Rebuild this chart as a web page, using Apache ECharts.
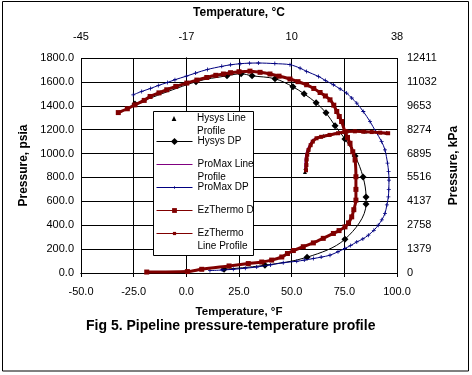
<!DOCTYPE html>
<html><head><meta charset="utf-8">
<script src="https://cdn.jsdelivr.net/npm/echarts@6/dist/echarts.min.js"></script>
<style>html,body{margin:0;padding:0;background:#fff}#c{width:472px;height:375px}</style>
</head><body><div id="c"></div>
<script>
// ---- data (temperature °F, pressure psia) ----
const hysysLineProfile = [[95,1175],[85,1185],[75,1185],[65,1150],[60,1110],[58,1040],[57,960],[56.5,880],[56.3,845]];
const hysysDP = [[-24.4,1414],[4.6,1601],[19.3,1651],[26.0,1668],[31.2,1651],[42.1,1626],[50.6,1559],[55.9,1500],[61.6,1425],[66.3,1341],[70.6,1232],[75.3,1122],[80.1,980],[83.9,803],[85.3,636],[85.3,577],[75.3,283],[57.3,132],[37.3,65],[17.9,31]];
const promaxLineProfile = [[96,1172],[90,1180],[84,1184],[80,1188],[76,1188],[72,1175],[68,1160],[64,1143],[61.5,1130],[59.5,1100],[58.3,1065],[57.3,1025],[56.7,980],[56.4,930],[56.3,880],[56.2,850]];
const promaxDP = [[-25.2,1492],[-21.2,1520],[-17,1545],[-13.3,1570],[-9,1595],[-5.4,1618],[0,1648],[4.4,1674],[10,1704],[16.8,1730],[21,1743],[25.5,1752],[30,1757],[34.2,1758],[42,1753],[49.2,1744],[54,1715],[57.1,1688],[62.7,1646],[66,1612],[69.8,1576],[73,1541],[76.1,1506],[78.5,1465],[80.9,1422],[84.0,1352],[87.2,1268],[89.9,1184],[92.7,1100],[94.3,1030],[95.5,920],[96.0,850],[96.2,778],[96.1,700],[95.9,638],[95.2,570],[94.3,499],[92.8,445],[91.1,400],[89,357],[86.4,317],[83.8,285],[80.9,260],[78,230],[75.3,205],[72,178],[68.2,149],[64,133],[60.3,121],[56,108],[52.4,98],[46.0,86],[40,68],[33.4,50],[28,40],[22.3,31],[17,25],[11.2,20]];
const ezthermoDP = [[-32.3,1343],[-28,1375],[-24.4,1408],[-20,1445],[-17.2,1478],[-13,1508],[-9.3,1534],[-5,1562],[0.2,1590],[5,1615],[9.7,1637],[14,1655],[17.6,1666],[21,1677],[25,1685],[30.2,1690],[35,1680],[39.7,1666],[44,1648],[49.2,1624],[53,1602],[57.1,1576],[60.5,1545],[63.5,1511],[66,1482],[68.2,1450],[70,1405],[71.4,1352],[72.6,1310],[73.7,1268],[75.3,1184],[76.5,1135],[77.7,1086],[79,1015],[80.1,946],[80.5,806],[80.5,700],[80.5,610],[79.5,530],[78.5,470],[77,420],[75.3,386],[72.5,355],[69.8,331],[65,290],[60.3,252],[55.5,220],[50.8,188],[48,163],[45.3,134],[40.5,108],[35.8,92],[29.4,79],[20.3,59],[7.3,31],[0.5,12],[-18.8,8]];
const ezthermoLineProfile = [[95.8,1170],[92,1175],[88,1180],[84,1183],[80,1186],[76,1184],[72,1170],[68,1156],[64,1140],[61.8,1128],[60,1100],[59,1070],[58,1030],[57.4,990],[57.1,950],[57,904],[56.8,860]];

const seriesNames = ['Hysys Line Profile','Hysys DP','ProMax Line Profile','ProMax DP','EzThermo DP','EzThermo Line Profile'];
const legendLabels = ['Hysys Line\nProfile','Hysys DP','ProMax Line\nProfile','ProMax DP','EzThermo DP','EzThermo\nLine Profile'];
const celsiusLabels = ['-45','','-17','','10','','38'];          // at -50,-25,0,25,50,75,100 °F
const kpaLabels = ['0','1379','2758','4137','5516','6895','8274','9653','11032','12411'];

const FONT = 'Arial, "Liberation Sans", sans-serif';
const plusSym = 'path://M2,0L3,0L3,2L5,2L5,3L3,3L3,5L2,5L2,3L0,3L0,2L2,2Z';

const chart = echarts.init(document.getElementById('c'), null, {renderer:'canvas'});

const legendCenters = [118.5, 141.5, 164.5, 187.5, 210.5, 233.5];
const legendIconH = [6, 9, 8, 4, 6, 4];
const legends = seriesNames.map((n, i) => {
  const two = legendLabels[i].indexOf('\n') >= 0;
  const txt = two ? '\u00a0\n' + legendLabels[i] : legendLabels[i];
  const ts = {fontSize: 10, fontFamily: FONT, color: '#000', lineHeight: 13};
  if (i === 4) { ts.width = 60; ts.overflow = 'truncate'; ts.ellipsis = ''; }
  const lg = {
    show: true, orient: 'vertical', left: 156,
    top: legendCenters[i] - (two ? 19.5 : 6.5),
    padding: 0, itemGap: 0, itemWidth: 36, itemHeight: legendIconH[i],
    selectedMode: false, z: 100,
    data: [n],
    formatter: () => txt,
    lineStyle: {width: 1},
    textStyle: ts
  };
  if (i === 2) lg.itemStyle = {opacity: 0};
  if (i === 0) lg.lineStyle = {opacity: 0, width: 0};
  return lg;
});

const axisLbl = {fontSize: 11, fontFamily: FONT, color: '#000'};
const nameStyle = {fontSize: 12, fontWeight: 'bold', fontFamily: FONT, color: '#000'};

chart.setOption({
  animation: false,
  backgroundColor: '#fff',
  title: {text: 'Fig 5. Pipeline pressure-temperature profile', left: 86, top: 319, padding: 0,
          textStyle: {fontSize: 14, fontWeight: 'bold', fontFamily: FONT, color: '#000'}},
  grid: {left: 81, right: 75, top: 58, bottom: 102, outerBoundsMode: 'none', containLabel: false},
  legend: legends,
  xAxis: [
    {type: 'value', position: 'bottom', min: -50, max: 100, interval: 25,
     name: 'Temperature, °F', nameLocation: 'middle', nameGap: 33,
     nameTextStyle: Object.assign({}, nameStyle, {fontSize: 11.5}),
     axisLine: {show: true, lineStyle: {color: '#000', width: 1}},
     axisTick: {show: true, length: 4, lineStyle: {color: '#000'}},
     axisLabel: Object.assign({margin: 13, formatter: v => v.toFixed(1)}, axisLbl),
     splitLine: {show: true, lineStyle: {color: '#000', width: 1}}},
    {type: 'value', position: 'top', min: -50, max: 100, interval: 25,
     name: 'Temperature, °C', nameLocation: 'middle', nameGap: 39, nameTextStyle: nameStyle,
     axisLine: {show: true, lineStyle: {color: '#000', width: 1}},
     axisTick: {show: true, length: 4, lineStyle: {color: '#000'}},
     axisLabel: Object.assign({margin: 16, formatter: v => celsiusLabels[Math.round((v + 50) / 25)]}, axisLbl),
     splitLine: {show: false}}
  ],
  yAxis: [
    {type: 'value', position: 'left', min: 0, max: 1800, interval: 200,
     name: 'Pressure, psia', nameLocation: 'middle', nameGap: 46, nameTextStyle: nameStyle,
     axisLine: {show: true, lineStyle: {color: '#000', width: 1}},
     axisTick: {show: true, length: 4, lineStyle: {color: '#000'}},
     axisLabel: Object.assign({margin: 7, formatter: v => v.toFixed(1)}, axisLbl),
     splitLine: {show: true, lineStyle: {color: '#000', width: 1}}},
    {type: 'value', position: 'right', min: 0, max: 1800, interval: 200,
     name: 'Pressure, kPa', nameLocation: 'middle', nameGap: 46, nameTextStyle: nameStyle,
     axisLine: {show: true, lineStyle: {color: '#000', width: 1}},
     axisTick: {show: true, length: 4, lineStyle: {color: '#000'}},
     axisLabel: Object.assign({margin: 10, formatter: v => kpaLabels[Math.round(v / 200)]}, axisLbl),
     splitLine: {show: false}}
  ],
  graphic: {elements: [
    {type: 'rect', z: 90, shape: {x: 153.5, y: 111.5, width: 100, height: 144}, style: {fill: '#fff', stroke: '#000', lineWidth: 1}},
    {type: 'rect', z: 0, silent: true, shape: {x: 2.5, y: 1.5, width: 466, height: 369.5}, style: {fill: 'none', stroke: '#000', lineWidth: 1}}
  ]},
  series: [
    {name: seriesNames[0], type: 'line', data: hysysLineProfile, symbol: 'triangle', symbolSize: 4, showSymbol: true,
     lineStyle: {width: 0, opacity: 0}, itemStyle: {color: '#000'}, z: 2},
    {name: seriesNames[1], type: 'line', data: hysysDP, smooth: 0.35, symbol: 'diamond', symbolSize: 7, showSymbol: true,
     lineStyle: {color: '#000', width: 1}, itemStyle: {color: '#000'}, z: 3},
    {name: seriesNames[2], type: 'line', data: promaxLineProfile, smooth: 0.3, symbol: 'none', showSymbol: false,
     lineStyle: {color: '#800080', width: 1.5}, itemStyle: {color: '#800080'}, z: 4},
    {name: seriesNames[3], type: 'line', data: promaxDP, smooth: 0.3, symbol: plusSym, symbolSize: 4, showSymbol: true,
     lineStyle: {color: '#000080', width: 1}, itemStyle: {color: '#000080'}, z: 5},
    {name: seriesNames[4], type: 'line', data: ezthermoDP, smooth: 0.3, symbol: 'rect', symbolSize: 5, showSymbol: true,
     lineStyle: {color: '#800000', width: 3}, itemStyle: {color: '#800000'}, z: 6},
    {name: seriesNames[5], type: 'line', data: ezthermoLineProfile, smooth: 0.3, symbol: 'rect', symbolSize: 4, showSymbol: true,
     lineStyle: {color: '#800000', width: 3}, itemStyle: {color: '#800000'}, z: 7}
  ]
});
</script></body></html>
